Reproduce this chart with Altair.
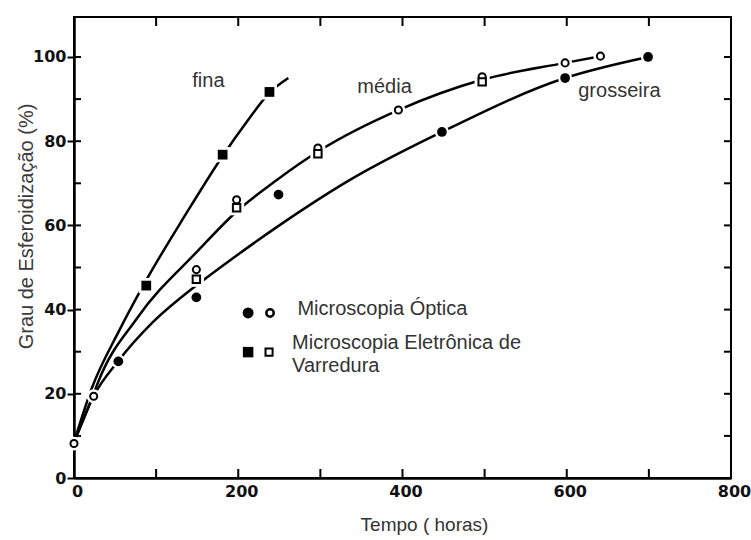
import altair as alt
import pandas as pd

# Fitted curves: time (h) vs spheroidization degree (%)
fina_t = [0, 22, 55, 88, 135, 181, 210, 238, 261]
fina_g = [8.5, 21.5, 35, 47, 62.3, 76.5, 84.5, 91.5, 95]
media_t = [0, 24, 29, 77, 151, 198, 247, 300, 395, 497, 598, 641]
media_g = [8.5, 20, 22.6, 38, 54, 63.3, 70.8, 77.9, 87.4, 94.6, 98.6, 100.2]
gross_t = [0, 24, 54, 96, 144, 163, 250, 336, 448, 598, 699]
gross_g = [8.5, 19.5, 27.8, 37, 45, 47.8, 60, 70.8, 82.2, 95, 100]

# Measured points
opt_open_t = [0, 24, 149, 198, 297, 395, 497, 598, 641]
opt_open_g = [8.2, 19.4, 49.5, 66.1, 78.4, 87.4, 95.3, 98.6, 100.2]
mev_open_t = [149, 198, 297, 497]
mev_open_g = [47.2, 64.2, 77.0, 94.1]
opt_full_t = [54, 149, 249, 448, 598, 699]
opt_full_g = [27.7, 42.9, 67.3, 82.2, 95.0, 100.0]
mev_full_t = [88, 181, 238]
mev_full_g = [45.7, 76.8, 91.7]

# Curve names
curve_names = ["fina", "média", "grosseira"]
curve_t = [144, 345, 614]
curve_g = [92.9, 91.4, 90.5]

# Key
key_texts = ["Microscopia Óptica", "Microscopia Eletrônica de", "Varredura"]
key_text_t = [272, 265.5, 265.5]
key_text_g = [38.7, 30.6, 25.2]
key_full_circle = (212, 39.2)
key_open_circle = (238.7, 39.2)
key_full_square = (212, 29.9)
key_open_square = (237.5, 29.9)

# Axis ticks
x_ticks = list(range(0, 801, 100))
x_labels = [0, 200, 400, 600, 800]
y_ticks = list(range(0, 101, 10))
y_labels = [0, 20, 40, 60, 80, 100]

W, H = 657, 461

def frame(t, g, **extra):
    d = pd.DataFrame({"t": t, "g": g})
    for k, v in extra.items():
        d[k] = v
    return d

X = alt.X(
    "t:Q",
    scale=alt.Scale(domain=[0, 800], nice=False, zero=False),
    axis=alt.Axis(
        values=x_labels, ticks=False, grid=False, domainColor="black", domainWidth=2.5,
        labelFont="DejaVu Sans", labelFontWeight="bold", labelFontSize=16, labelColor="#111",
        labelPadding=5, labelFlush=False, labelOffset=3,
        title="Tempo ( horas)", titleFont="Liberation Sans", titleFontSize=19,
        titleFontWeight="normal", titleColor="#333", titleX=350, titleY=46,
        titleAlign="center", titleBaseline="middle",
    ),
)
Y = alt.Y(
    "g:Q",
    scale=alt.Scale(domain=[0, 109.5], nice=False, zero=True),
    axis=alt.Axis(
        values=y_labels, tickSize=7, tickWidth=2, tickColor="black", grid=False,
        domainColor="black", domainWidth=2.5,
        labelFont="DejaVu Sans", labelFontWeight="bold", labelFontSize=16, labelColor="#111",
        labelPadding=1,
        title="Grau de Esferoidização (%)", titleFont="Liberation Sans", titleFontSize=20,
        titleFontWeight="normal", titleColor="#3a3a3a", titleAngle=270, titleX=-48,
        titleY=209, titleAlign="center", titleBaseline="middle",
    ),
)

curves = pd.concat([
    frame(fina_t, fina_g, c="fina"),
    frame(media_t, media_g, c="media"),
    frame(gross_t, gross_g, c="gross"),
])

lines = alt.Chart(curves).mark_line(
    interpolate="monotone", color="black", strokeWidth=2.5
).encode(x=X, y=Y, detail="c:N")

all_circles = frame(opt_open_t + opt_full_t, opt_open_g + opt_full_g)
all_squares = frame(mev_open_t + mev_full_t, mev_open_g + mev_full_g)

halo_c = alt.Chart(all_circles).mark_point(
    shape="circle", filled=True, color="white", size=200, opacity=1
).encode(x=X, y=Y)
halo_s = alt.Chart(all_squares).mark_point(
    shape="square", filled=True, color="white", size=230, opacity=1
).encode(x=X, y=Y)

open_c = alt.Chart(frame(opt_open_t, opt_open_g)).mark_point(
    shape="circle", filled=True, fill="white", stroke="black", strokeWidth=2,
    size=50, opacity=1
).encode(x=X, y=Y)
open_s = alt.Chart(frame(mev_open_t, mev_open_g)).mark_point(
    shape="square", filled=True, fill="white", stroke="black", strokeWidth=2,
    size=55, opacity=1
).encode(x=X, y=Y)
full_c = alt.Chart(frame(opt_full_t, opt_full_g)).mark_point(
    shape="circle", filled=True, color="black", size=95, opacity=1
).encode(x=X, y=Y)
full_s = alt.Chart(frame(mev_full_t, mev_full_g)).mark_point(
    shape="square", filled=True, color="black", size=95, opacity=1
).encode(x=X, y=Y)

# Key symbols
k_full_c = alt.Chart(frame([key_full_circle[0]], [key_full_circle[1]])).mark_point(
    shape="circle", filled=True, color="black", size=120, opacity=1
).encode(x=X, y=Y)
k_open_c = alt.Chart(frame([key_open_circle[0]], [key_open_circle[1]])).mark_point(
    shape="circle", filled=True, fill="white", stroke="black", strokeWidth=2.5,
    size=55, opacity=1
).encode(x=X, y=Y)
k_full_s = alt.Chart(frame([key_full_square[0]], [key_full_square[1]])).mark_point(
    shape="square", filled=True, color="black", size=110, opacity=1
).encode(x=X, y=Y)
k_open_s = alt.Chart(frame([key_open_square[0]], [key_open_square[1]])).mark_point(
    shape="square", filled=True, fill="white", stroke="black", strokeWidth=2,
    size=50, opacity=1
).encode(x=X, y=Y)

names = alt.Chart(frame(curve_t, curve_g, label=curve_names)).mark_text(
    font="Liberation Sans", fontSize=20, color="#333", align="left", baseline="alphabetic"
).encode(x=X, y=Y, text="label:N")

key_labels = alt.Chart(frame(key_text_t, key_text_g, label=key_texts)).mark_text(
    font="Liberation Sans", fontSize=20, color="#333", align="left", baseline="alphabetic"
).encode(x=X, y=Y, text="label:N")

# Inward ticks on all four sides
bottom_ticks = alt.Chart(frame(x_ticks, [0] * len(x_ticks))).mark_rule(
    color="black", strokeWidth=2
).encode(x=X, y=alt.value(H), y2=alt.value(H - 9))
top_ticks = alt.Chart(frame(x_ticks, [0] * len(x_ticks))).mark_rule(
    color="black", strokeWidth=2
).encode(x=X, y=alt.value(0), y2=alt.value(9))
left_ticks = alt.Chart(frame([0] * len(y_ticks), y_ticks)).mark_rule(
    color="black", strokeWidth=2
).encode(y=Y, x=alt.value(0), x2=alt.value(7))
right_ticks = alt.Chart(frame([0] * len(y_ticks), y_ticks)).mark_rule(
    color="black", strokeWidth=2
).encode(y=Y, x=alt.value(W), x2=alt.value(W - 7))

chart = alt.layer(
    lines, halo_c, halo_s, open_c, open_s, full_c, full_s,
    k_full_c, k_open_c, k_full_s, k_open_s, names, key_labels,
    bottom_ticks, top_ticks, left_ticks, right_ticks,
).properties(
    width=W, height=H,
    autosize=alt.AutoSizeParams(type="none"),
    padding={"left": 74, "top": 17, "right": 20, "bottom": 62},
    background="white",
).configure_view(
    stroke="black", strokeWidth=2
)

chart.save("out.html", embed_options={"renderer": "svg", "actions": False})
